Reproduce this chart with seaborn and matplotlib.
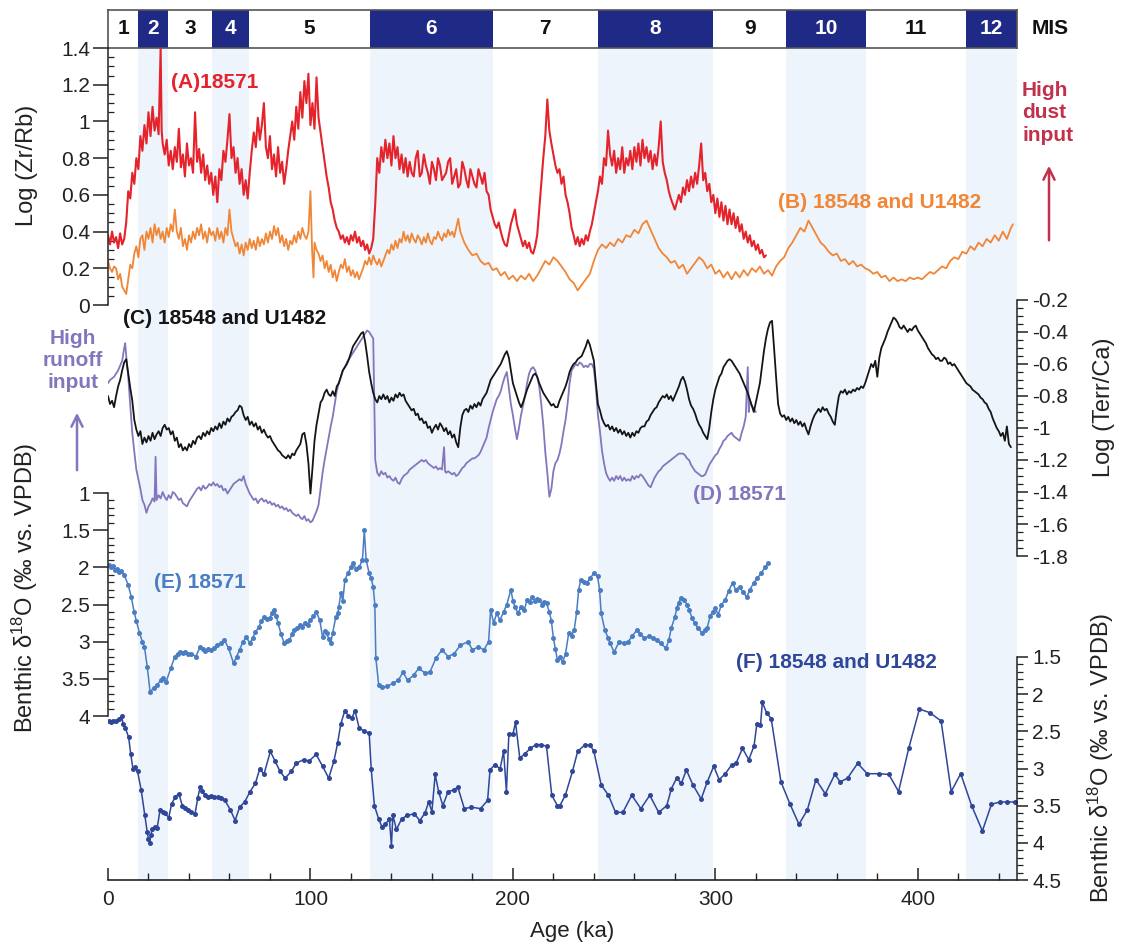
import matplotlib
matplotlib.use("Agg")
import matplotlib.pyplot as plt
from matplotlib.patches import FancyArrowPatch
from matplotlib.ticker import MultipleLocator, FixedLocator, FixedFormatter
import seaborn as sns

# ---------------- data ----------------
MIS_LABELS = ['1', '2', '3', '4', '5', '6', '7', '8', '9', '10', '11', '12']
MIS_BOUNDS = [0, 15, 29.5, 51.5, 69.5, 129.5, 190, 242, 299, 335, 374.5, 424, 449]

AGE_TICKS = [0, 100, 200, 300, 400]
ZR_TICKS = [0, 0.2, 0.4, 0.6, 0.8, 1.0, 1.2, 1.4]
ZR_LABELS = ['0', '0.2', '0.4', '0.6', '0.8', '1', '1.2', '1.4']
TC_TICKS = [-0.2, -0.4, -0.6, -0.8, -1.0, -1.2, -1.4, -1.6, -1.8]
TC_LABELS = ['-0.2', '-0.4', '-0.6', '-0.8', '-1', '-1.2', '-1.4', '-1.6', '-1.8']
E_TICKS = [1, 1.5, 2, 2.5, 3, 3.5, 4]
E_LABELS = ['1', '1.5', '2', '2.5', '3', '3.5', '4']
F_TICKS = [1.5, 2, 2.5, 3, 3.5, 4, 4.5]
F_LABELS = ['1.5', '2', '2.5', '3', '3.5', '4', '4.5']

# (A) Log(Zr/Rb) 18571
A_PTS = [(0,0.38),(1,0.33),(2,0.40),(3,0.34),(4,0.37),(5,0.31),(6,0.39),(7,0.33),(8,0.36),(9,0.45),
 (10,0.62),(11,0.58),(12,0.72),(13,0.66),(14,0.80),(15,0.74),(16,0.92),(17,0.84),(18,0.98),(19,0.88),
 (20,1.05),(21,0.92),(22,1.08),(23,0.95),(24,1.02),(25,0.93),(26,1.40),(26.5,0.95),(27,0.88),(28,0.82),
 (29,0.90),(30,0.76),(31,0.84),(32,0.74),(33,0.86),(34,0.78),(35,0.96),(36,0.75),(37,0.82),(38,0.70),
 (39,0.88),(40,0.76),(41,0.80),(42,0.72),(43,1.05),(44,0.78),(45,0.85),(46,0.72),(47,0.82),(48,0.68),
 (49,0.76),(50,0.66),(51,0.72),(52,0.60),(53,0.70),(54,0.56),(55,0.74),(56,0.68),(57,0.84),(58,0.78),
 (59,0.90),(60,1.04),(61,0.80),(62,0.86),(63,0.72),(64,0.80),(65,0.66),(66,0.74),(67,0.60),(68,0.68),
 (69,0.58),(70,0.72),(71,0.84),(72,0.94),(73,0.86),(74,1.02),(75,0.90),(76,0.98),(77,1.10),(78,0.86),
 (79,0.80),(80,0.92),(81,0.74),(82,0.82),(83,0.70),(84,0.86),(85,0.72),(86,0.78),(87,0.66),(88,0.74),
 (89,0.84),(90,0.92),(91,1.00),(92,0.90),(93,1.08),(94,0.96),(95,1.16),(96,1.02),(97,1.22),(98,1.10),
 (99,1.26),(100,0.98),(101,1.10),(102,0.96),(103,1.24),(104,1.02),(105,0.94),(106,0.86),(107,0.78),(108,0.70),
 (109,0.64),(110,0.56),(111,0.52),(112,0.46),(113,0.42),(114,0.40),(115,0.36),(116,0.38),(117,0.34),(118,0.37),
 (119,0.33),(120,0.38),(121,0.35),(122,0.40),(123,0.34),(124,0.37),(125,0.32),(126,0.35),(127,0.30),(128,0.33),
 (129,0.28),(130,0.31),(131,0.36),(132,0.55),(133,0.80),(134,0.72),(135,0.86),(136,0.78),(137,0.90),(138,0.80),
 (139,0.88),(140,0.76),(141,0.92),(142,0.80),(143,0.86),(144,0.74),(145,0.82),(146,0.72),(147,0.80),(148,0.70),
 (149,0.78),(150,0.72),(151,0.70),(152,0.80),(153,0.84),(154,0.70),(155,0.72),(156,0.82),(157,0.76),(158,0.72),
 (159,0.66),(160,0.78),(161,0.74),(162,0.68),(163,0.80),(164,0.76),(165,0.68),(166,0.70),(167,0.72),(168,0.78),
 (169,0.80),(170,0.66),(171,0.70),(172,0.74),(173,0.64),(174,0.66),(175,0.78),(176,0.74),(177,0.68),(178,0.64),
 (179,0.74),(180,0.70),(181,0.66),(182,0.64),(183,0.74),(184,0.70),(185,0.66),(186,0.72),(187,0.62),(188,0.60),
 (189,0.52),(190,0.48),(191,0.44),(192,0.42),(193,0.45),(194,0.40),(195,0.36),(196,0.33),(197,0.32),(198,0.38),
 (199,0.44),(200,0.48),(201,0.52),(202,0.44),(203,0.40),(204,0.36),(205,0.32),(206,0.35),(207,0.31),(208,0.34),
 (209,0.29),(210,0.28),(211,0.32),(212,0.38),(213,0.52),(214,0.66),(215,0.80),(216,0.92),(217,1.12),(218,0.95),
 (219,0.88),(220,0.82),(221,0.76),(222,0.72),(223,0.74),(224,0.66),(225,0.70),(226,0.60),(227,0.56),(228,0.50),
 (229,0.42),(230,0.38),(231,0.33),(232,0.37),(233,0.32),(234,0.36),(235,0.33),(236,0.38),(237,0.35),
 (238,0.40),(239,0.44),(240,0.50),(241,0.56),(242,0.62),(243,0.70),(244,0.66),(245,0.80),(246,0.76),(247,0.95),
 (248,0.82),(249,0.76),(250,0.84),(251,0.72),(252,0.80),(253,0.74),(254,0.86),(255,0.72),(256,0.80),(257,0.76),
 (258,0.84),(259,0.74),(260,0.86),(261,0.78),(262,0.88),(263,0.76),(264,0.90),(265,0.80),(266,0.86),(267,0.78),
 (268,0.84),(269,0.74),(270,0.82),(271,0.76),(272,0.86),(273,1.00),(274,0.78),(275,0.72),(276,0.68),(277,0.62),
 (278,0.58),(279,0.55),(280,0.52),(281,0.56),(282,0.60),(283,0.56),(284,0.64),(285,0.60),(286,0.68),(287,0.62),
 (288,0.70),(289,0.64),(290,0.72),(291,0.66),(292,0.76),(293,0.88),(294,0.68),(295,0.72),(296,0.62),(297,0.66),
 (298,0.56),(299,0.60),(300,0.50),(301,0.58),(302,0.48),(303,0.56),(304,0.46),(305,0.54),(306,0.44),(307,0.52),
 (308,0.44),(309,0.50),(310,0.42),(311,0.48),(312,0.40),(313,0.44),(314,0.36),(315,0.40),(316,0.34),(317,0.38),
 (318,0.32),(319,0.35),(320,0.30),(321,0.33),(322,0.28),(323,0.30),(324,0.26),(325,0.27)]

# (B) Log(Zr/Rb) 18548 and U1482
B_PTS = [(0,0.24),(1,0.20),(2,0.18),(3,0.21),(4,0.20),(5,0.14),(6,0.17),(7,0.10),(8,0.08),(9,0.06),
 (10,0.14),(11,0.22),(12,0.20),(13,0.28),(14,0.32),(15,0.26),(16,0.36),(17,0.38),(18,0.30),(19,0.40),
 (20,0.36),(21,0.42),(22,0.34),(23,0.44),(24,0.38),(25,0.42),(26,0.36),(27,0.40),(28,0.34),(29,0.42),
 (30,0.37),(31,0.44),(32,0.40),(33,0.52),(34,0.40),(35,0.36),(36,0.42),(37,0.32),(38,0.36),(39,0.30),
 (40,0.38),(41,0.34),(42,0.40),(43,0.36),(44,0.42),(45,0.38),(46,0.44),(47,0.36),(48,0.40),(49,0.34),
 (50,0.42),(51,0.38),(52,0.40),(53,0.35),(54,0.42),(55,0.36),(56,0.40),(57,0.34),(58,0.42),(59,0.38),
 (60,0.52),(61,0.40),(62,0.36),(63,0.32),(64,0.34),(65,0.28),(66,0.33),(67,0.27),(68,0.34),(69,0.30),
 (70,0.36),(71,0.31),(72,0.35),(73,0.30),(74,0.37),(75,0.32),(76,0.36),(77,0.33),(78,0.39),(79,0.34),
 (80,0.40),(81,0.36),(82,0.43),(83,0.38),(84,0.42),(85,0.34),(86,0.38),(87,0.32),(88,0.36),(89,0.30),
 (90,0.35),(91,0.33),(92,0.38),(93,0.34),(94,0.40),(95,0.36),(96,0.42),(97,0.38),(98,0.36),(99,0.40),
 (100,0.62),(100.8,0.30),(101.5,0.15),(102,0.34),(103,0.30),(104,0.28),(105,0.24),(106,0.27),(107,0.20),(108,0.24),
 (109,0.18),(110,0.22),(111,0.15),(112,0.19),(113,0.13),(114,0.18),(115,0.22),(116,0.20),(117,0.25),(118,0.18),
 (119,0.21),(120,0.16),(121,0.19),(122,0.15),(123,0.18),(124,0.14),(125,0.17),(126,0.20),(127,0.24),(128,0.22),
 (129,0.26),(130,0.22),(131,0.27),(132,0.24),(133,0.22),(134,0.25),(135,0.21),(136,0.24),(137,0.27),(138,0.30),
 (139,0.28),(140,0.33),(141,0.30),(142,0.35),(143,0.31),(144,0.36),(145,0.34),(146,0.40),(147,0.35),(148,0.38),
 (149,0.34),(150,0.39),(151,0.36),(152,0.34),(153,0.38),(154,0.36),(155,0.33),(156,0.37),(157,0.34),(158,0.39),
 (159,0.35),(160,0.33),(161,0.37),(162,0.36),(163,0.40),(164,0.37),(165,0.35),(166,0.39),(167,0.37),(168,0.41),
 (169,0.38),(170,0.40),(171,0.37),(172,0.42),(173,0.47),(174,0.40),(176,0.34),(178,0.30),(180,0.27),(182,0.28),
 (184,0.24),(186,0.22),(188,0.23),(190,0.19),(192,0.20),
 (194,0.16),(196,0.18),(198,0.14),(200,0.16),(202,0.13),(204,0.16),(206,0.14),(208,0.17),(210,0.13),(212,0.16),
 (214,0.20),(216,0.24),(218,0.22),(220,0.26),(222,0.24),(224,0.21),(226,0.18),(228,0.14),(230,0.12),(232,0.08),
 (234,0.11),(236,0.14),(238,0.17),(240,0.24),(242,0.30),(244,0.33),(246,0.31),(248,0.34),(250,0.32),(252,0.36),
 (254,0.34),(256,0.38),(258,0.37),(260,0.41),(262,0.39),(264,0.44),(266,0.46),(268,0.41),(270,0.36),(272,0.31),
 (274,0.28),(276,0.26),(278,0.23),(280,0.24),(282,0.20),(284,0.22),(286,0.17),(288,0.20),(290,0.23),(292,0.26),
 (294,0.24),(296,0.20),(298,0.22),(300,0.17),(302,0.19),(304,0.15),(306,0.18),(308,0.14),(310,0.18),(312,0.15),
 (314,0.19),(316,0.16),(318,0.20),(320,0.18),(322,0.21),(324,0.17),(326,0.19),(328,0.16),(330,0.21),(332,0.24),
 (334,0.26),(336,0.31),(338,0.34),(340,0.38),(342,0.42),(344,0.40),(346,0.46),(348,0.42),(350,0.38),(352,0.34),
 (354,0.32),(356,0.29),(358,0.27),(360,0.28),(362,0.24),(364,0.25),(366,0.22),(368,0.24),(370,0.21),(372,0.22),
 (374,0.20),(376,0.19),(378,0.17),(380,0.18),(382,0.15),(384,0.16),(386,0.13),(388,0.15),(390,0.13),(392,0.14),
 (394,0.13),(396,0.15),(398,0.14),(400,0.15),(402,0.14),(404,0.16),(406,0.18),(408,0.17),(410,0.19),(412,0.21),
 (414,0.20),(416,0.24),(418,0.26),(420,0.25),(422,0.29),(424,0.28),(426,0.32),(428,0.30),(430,0.34),(432,0.32),
 (434,0.36),(436,0.34),(438,0.38),(440,0.35),(442,0.40),(444,0.36),(446,0.42),(447,0.44)]

# (C) Log(Terr/Ca) 18548 and U1482
C_PTS = [(0,-0.80),(1,-0.85),(2,-0.83),(3,-0.87),(4,-0.80),(5,-0.74),(6,-0.70),(7,-0.64),(8,-0.59),(9,-0.57),
 (10,-0.66),(11,-0.75),(12,-0.83),(13,-0.95),(14,-1.01),(15,-1.05),(16,-1.02),(17,-1.10),(18,-1.06),(19,-1.09),
 (20,-1.05),(21,-1.08),(22,-1.03),(23,-1.07),(24,-1.04),(25,-1.02),(26,-1.05),(27,-1.00),(28,-0.98),(29,-1.01),
 (30,-1.00),(31,-1.04),(32,-1.02),(33,-1.08),(34,-1.06),(35,-1.12),(36,-1.10),(37,-1.14),(38,-1.12),(39,-1.14),
 (40,-1.10),(41,-1.12),(42,-1.08),(43,-1.10),(44,-1.06),(45,-1.05),(46,-1.07),(47,-1.03),(48,-1.05),(49,-1.02),
 (50,-1.04),(51,-1.00),(52,-1.02),(53,-0.99),(54,-1.01),(55,-0.97),(56,-1.00),(57,-0.96),(58,-0.98),(59,-0.94),
 (60,-0.96),(61,-0.93),(62,-0.92),(63,-0.90),(64,-0.89),(65,-0.86),(66,-0.87),(67,-0.92),(68,-0.95),(69,-0.93),
 (70,-0.98),(71,-0.96),(72,-0.99),(73,-0.97),(74,-1.01),(75,-0.99),(76,-1.03),(77,-1.01),(78,-1.04),(79,-1.06),
 (80,-1.05),(81,-1.08),(82,-1.10),(83,-1.12),(84,-1.14),(85,-1.15),(86,-1.17),(87,-1.18),(88,-1.19),(89,-1.17),
 (90,-1.19),(91,-1.16),(92,-1.17),(93,-1.14),(94,-1.12),(95,-1.10),(96,-1.04),(97,-1.03),(98,-1.10),(99,-1.22),
 (100,-1.41),(101,-1.25),(102,-1.08),(103,-0.98),(104,-0.91),(105,-0.84),(106,-0.82),(107,-0.78),(108,-0.76),(109,-0.79),
 (110,-0.80),(111,-0.77),(112,-0.80),(113,-0.74),(114,-0.72),(115,-0.68),(116,-0.64),(117,-0.62),(118,-0.60),(119,-0.57),
 (120,-0.53),(121,-0.49),(122,-0.47),(123,-0.45),(124,-0.43),(125,-0.41),(126,-0.40),(127,-0.46),(128,-0.55),(129,-0.65),
 (130,-0.72),(131,-0.78),(132,-0.82),(133,-0.84),(134,-0.80),(135,-0.82),(136,-0.79),(137,-0.82),(138,-0.80),(139,-0.84),
 (140,-0.81),(141,-0.83),(142,-0.79),(143,-0.81),(144,-0.78),(145,-0.80),(146,-0.79),(147,-0.83),(148,-0.85),(149,-0.87),
 (150,-0.89),(151,-0.88),(152,-0.92),(153,-0.91),(154,-0.95),(155,-0.94),(156,-0.97),(157,-0.96),(158,-1.00),(159,-0.99),
 (160,-1.03),(161,-1.00),(162,-0.98),(163,-1.01),(164,-0.97),(165,-0.99),(166,-1.02),(167,-1.00),(168,-1.04),(169,-1.02),
 (170,-1.06),(171,-1.04),(172,-1.09),(173,-1.12),(174,-1.00),(175,-0.92),(176,-0.89),(177,-0.88),(178,-0.90),(179,-0.86),
 (180,-0.88),(181,-0.85),(182,-0.87),(183,-0.84),(184,-0.86),(185,-0.82),(186,-0.80),(187,-0.78),(188,-0.74),(189,-0.70),
 (190,-0.68),(191,-0.66),(192,-0.64),(193,-0.62),(194,-0.60),(195,-0.57),(196,-0.54),(197,-0.52),(198,-0.56),(199,-0.64),
 (200,-0.72),(201,-0.76),(202,-0.80),(203,-0.84),(204,-0.87),(205,-0.84),(206,-0.80),(207,-0.76),(208,-0.73),(209,-0.70),
 (210,-0.67),(211,-0.66),(212,-0.68),(213,-0.72),(214,-0.75),(215,-0.78),(216,-0.80),(217,-0.82),(218,-0.84),(219,-0.86),
 (220,-0.85),(221,-0.87),(222,-0.87),(223,-0.83),(224,-0.80),(225,-0.77),(226,-0.74),(227,-0.70),(228,-0.65),(229,-0.62),
 (230,-0.60),(231,-0.59),(232,-0.57),(233,-0.56),(234,-0.55),(235,-0.52),(236,-0.49),(237,-0.45),(238,-0.48),(239,-0.53),
 (240,-0.58),(241,-0.72),(242,-0.85),(243,-0.89),(244,-0.94),(245,-0.97),(246,-0.99),(247,-0.98),(248,-1.01),(249,-0.99),
 (250,-1.02),(251,-1.00),(252,-1.03),(253,-1.01),(254,-1.04),(255,-1.02),(256,-1.05),(257,-1.03),(258,-1.06),(259,-1.03),
 (260,-1.05),(261,-1.02),(262,-1.03),(263,-1.00),(264,-0.99),(265,-0.99),(266,-0.96),(267,-0.95),(268,-0.92),(269,-0.90),
 (270,-0.88),(271,-0.87),(272,-0.84),(273,-0.82),(274,-0.80),(275,-0.81),(276,-0.79),(277,-0.82),(278,-0.80),(279,-0.83),
 (280,-0.80),(281,-0.77),(282,-0.74),(283,-0.70),(284,-0.68),(285,-0.71),(286,-0.76),(287,-0.82),(288,-0.86),(289,-0.88),
 (290,-0.91),(291,-0.95),(292,-0.98),(293,-1.00),(294,-1.03),(295,-1.05),(296,-1.07),(297,-1.00),(298,-0.90),(299,-0.82),
 (300,-0.76),(301,-0.72),(302,-0.68),(303,-0.66),(304,-0.62),(305,-0.60),(306,-0.58),(307,-0.57),(308,-0.58),(309,-0.60),
 (310,-0.62),(311,-0.64),(312,-0.66),(313,-0.69),(314,-0.72),(315,-0.75),(316,-0.78),(317,-0.82),(318,-0.86),(319,-0.90),
 (320,-0.84),(321,-0.78),(322,-0.72),(323,-0.62),(324,-0.52),(325,-0.44),(326,-0.38),(327,-0.34),(328,-0.33),(329,-0.50),
 (330,-0.68),(331,-0.85),(332,-0.91),(333,-0.93),(334,-0.92),(335,-0.95),(336,-0.93),(337,-0.96),(338,-0.94),(339,-0.97),
 (340,-0.95),(341,-0.98),(342,-0.96),(343,-0.99),(344,-0.97),(345,-1.01),(346,-1.04),(347,-0.99),(348,-0.95),(349,-0.92),
 (350,-0.90),(351,-0.88),(352,-0.90),(353,-0.87),(354,-0.89),(355,-0.88),(356,-0.91),(357,-0.93),(358,-0.96),(359,-0.98),
 (360,-0.88),(361,-0.80),(362,-0.77),(363,-0.78),(364,-0.76),(365,-0.79),(366,-0.77),(367,-0.78),(368,-0.76),(369,-0.77),
 (370,-0.75),(371,-0.76),(372,-0.74),(373,-0.75),(374,-0.72),(375,-0.68),(376,-0.64),(377,-0.60),(378,-0.62),(379,-0.58),
 (380,-0.68),(381,-0.56),(382,-0.50),(383,-0.47),(384,-0.44),(385,-0.40),(386,-0.37),(387,-0.34),(388,-0.31),(389,-0.32),
 (390,-0.34),(391,-0.37),(392,-0.38),(393,-0.36),(394,-0.38),(395,-0.40),(396,-0.38),(397,-0.39),(398,-0.37),(399,-0.36),
 (400,-0.39),(401,-0.41),(402,-0.43),(403,-0.45),(404,-0.47),(405,-0.50),(406,-0.52),(407,-0.54),(408,-0.55),(409,-0.57),
 (410,-0.56),(411,-0.58),(412,-0.58),(413,-0.56),(414,-0.57),(415,-0.60),(416,-0.59),(417,-0.61),(418,-0.60),(419,-0.62),
 (420,-0.64),(421,-0.66),(422,-0.68),(423,-0.70),(424,-0.72),(425,-0.73),(426,-0.74),(427,-0.76),(428,-0.77),(429,-0.78),
 (430,-0.79),(431,-0.81),(432,-0.82),(433,-0.84),(434,-0.85),(435,-0.88),(436,-0.90),(437,-0.94),(438,-0.97),(439,-1.00),
 (440,-1.02),(441,-1.05),(442,-1.03),(443,-1.08),(444,-0.99),(445,-1.10),(446,-1.12)]

# (D) Log(Terr/Ca) 18571
D_PTS = [(0,-0.72),(1,-0.70),(2,-0.69),(3,-0.68),(4,-0.66),(5,-0.64),(6,-0.61),(7,-0.58),(8,-0.50),(8.5,-0.47),
 (9,-0.55),(10,-0.68),(11,-0.86),(12,-1.03),(13,-1.15),(14,-1.26),(15,-1.32),(16,-1.38),(17,-1.45),(18,-1.48),
 (19,-1.53),(20,-1.49),(21,-1.47),(22,-1.44),(23,-1.46),(23.5,-1.18),(24,-1.45),(25,-1.42),(26,-1.44),(27,-1.40),
 (28,-1.43),(29,-1.45),(30,-1.42),(31,-1.44),(32,-1.40),(33,-1.41),(34,-1.43),(35,-1.45),(36,-1.44),(37,-1.47),
 (38,-1.48),(39,-1.49),(40,-1.46),(41,-1.44),(42,-1.42),(43,-1.40),(44,-1.38),(45,-1.37),(46,-1.39),(47,-1.36),
 (48,-1.38),(49,-1.37),(50,-1.35),(51,-1.36),(52,-1.34),(53,-1.36),(54,-1.35),(55,-1.37),(56,-1.36),(57,-1.39),
 (58,-1.38),(59,-1.41),(60,-1.39),(61,-1.37),(62,-1.35),(63,-1.34),(64,-1.33),(65,-1.32),(66,-1.33),(67,-1.30),
 (68,-1.35),(69,-1.38),(70,-1.41),(71,-1.43),(72,-1.45),(73,-1.44),(74,-1.47),(75,-1.45),(76,-1.44),(77,-1.46),
 (78,-1.45),(79,-1.47),(80,-1.46),(81,-1.48),(82,-1.47),(83,-1.49),(84,-1.48),(85,-1.50),(86,-1.49),(87,-1.51),
 (88,-1.50),(89,-1.52),(90,-1.51),(91,-1.53),(92,-1.54),(93,-1.55),(94,-1.54),(95,-1.56),(96,-1.57),(97,-1.55),
 (98,-1.58),(99,-1.57),(100,-1.59),(101,-1.58),(102,-1.55),(103,-1.52),(104,-1.48),(105,-1.38),(106,-1.28),(107,-1.20),
 (108,-1.13),(109,-1.06),(110,-0.99),(111,-0.93),(112,-0.85),(113,-0.77),(114,-0.72),(115,-0.68),(116,-0.64),(117,-0.62),
 (118,-0.59),(119,-0.57),(120,-0.55),(121,-0.53),(122,-0.51),(123,-0.49),(124,-0.47),(125,-0.45),(126,-0.43),(127,-0.41),
 (128,-0.39),(129,-0.40),(130,-0.42),(131,-0.44),(131.5,-0.80),(132,-1.20),(133,-1.28),(134,-1.30),(135,-1.27),(136,-1.29),
 (137,-1.28),(138,-1.31),(139,-1.30),(140,-1.32),(141,-1.33),(142,-1.31),(143,-1.34),(144,-1.35),(145,-1.32),(146,-1.30),
 (147,-1.29),(148,-1.28),(149,-1.26),(150,-1.25),(151,-1.24),(152,-1.23),(153,-1.22),(154,-1.21),(155,-1.20),(156,-1.21),
 (157,-1.20),(158,-1.22),(159,-1.23),(160,-1.24),(161,-1.25),(162,-1.24),(163,-1.26),(164,-1.25),(165,-1.26),(166,-1.12),
 (166.5,-1.27),(167,-1.28),(168,-1.27),(169,-1.28),(170,-1.29),(171,-1.28),(172,-1.30),(173,-1.29),(174,-1.27),(175,-1.25),
 (176,-1.24),(177,-1.22),(178,-1.21),(179,-1.20),(180,-1.19),(181,-1.19),(182,-1.18),(183,-1.17),(184,-1.15),(185,-1.12),
 (186,-1.09),(187,-1.06),(188,-1.00),(189,-0.95),(190,-0.90),(191,-0.86),(192,-0.82),(193,-0.80),(194,-0.77),(195,-0.72),
 (196,-0.68),(197,-0.65),(198,-0.75),(199,-0.85),(200,-0.92),(201,-1.00),(202,-1.07),(203,-1.00),(204,-0.92),(205,-0.86),
 (206,-0.80),(207,-0.72),(208,-0.66),(209,-0.63),(210,-0.62),(211,-0.64),(212,-0.68),(213,-0.74),(214,-0.85),(215,-0.98),
 (216,-1.15),(217,-1.28),(218,-1.43),(219,-1.38),(220,-1.27),(221,-1.22),(222,-1.20),(223,-1.16),(224,-1.10),(225,-1.02),
 (226,-0.95),(227,-0.85),(228,-0.72),(229,-0.64),(230,-0.62),(231,-0.60),(232,-0.61),(233,-0.59),(234,-0.60),(235,-0.62),
 (236,-0.61),(237,-0.62),(238,-0.60),(239,-0.60),(240,-0.63),(241,-0.75),(242,-0.92),(243,-1.02),(244,-1.14),(245,-1.22),
 (246,-1.28),(247,-1.31),(248,-1.33),(249,-1.31),(250,-1.33),(251,-1.30),(252,-1.32),(253,-1.30),(254,-1.33),(255,-1.31),
 (256,-1.33),(257,-1.32),(258,-1.33),(259,-1.30),(260,-1.32),(261,-1.30),(262,-1.31),(263,-1.29),(264,-1.30),(265,-1.32),
 (266,-1.34),(267,-1.36),(268,-1.37),(269,-1.34),(270,-1.31),(271,-1.29),(272,-1.27),(273,-1.26),(274,-1.24),(275,-1.23),
 (276,-1.22),(277,-1.21),(278,-1.20),(279,-1.19),(280,-1.18),(281,-1.17),(282,-1.16),(283,-1.16),(284,-1.16),(285,-1.17),
 (286,-1.19),(287,-1.20),(288,-1.23),(289,-1.25),(290,-1.27),(291,-1.28),(292,-1.29),(293,-1.30),(294,-1.30),(295,-1.29),
 (296,-1.26),(297,-1.23),(298,-1.21),(299,-1.19),(300,-1.17),(301,-1.16),(302,-1.13),(303,-1.11),(304,-1.08),(305,-1.07),
 (306,-1.05),(307,-1.04),(308,-1.03),(309,-1.05),(310,-1.06),(311,-1.07),(312,-1.08),(313,-1.03),(314,-0.99),(315,-0.93),
 (316,-0.62),(316.5,-0.90),(317,-0.83),(318,-0.86),(319,-0.88),(320,-0.90)]

# (E) benthic d18O 18571
E_PTS = [(0.5,1.97),(1.5,2.0),(2.5,1.98),(3.5,2.04),(4.5,2.02),(5.5,2.06),(6.5,2.05),(8,2.1),(10,2.24),(11.5,2.4),
 (12.9,2.6),(14,2.72),(15.5,2.88),(17,3.0),(18,3.07),(19.4,3.34),(20.8,3.68),(22.5,3.62),(24.3,3.58),(26,3.52),
 (27,3.49),(28.7,3.54),(31,3.36),(33,3.2),(34.5,3.16),(35.8,3.14),(37,3.15),(38,3.14),(39.5,3.17),(41,3.16),
 (43.4,3.2),(45.5,3.07),(47,3.1),(48,3.12),(49.5,3.1),(50.8,3.11),(52.5,3.08),(54,3.05),(56,3.02),(57.5,2.98),
 (59.6,3.09),(62,3.29),(63.5,3.2),(65,3.11),(66.7,3.0),(68.4,2.94),(70,3.02),(71.5,2.95),(72.8,2.87),(74.6,2.8),
 (75.8,2.72),(77,2.67),(78.5,2.7),(80,2.68),(81,2.62),(82,2.57),(83,2.65),(84,2.75),(85.5,2.9),(87,3.02),
 (88.3,2.99),(89.6,2.98),(91,2.9),(92,2.84),(93.5,2.82),(95,2.78),(96,2.8),(97.5,2.75),(98.7,2.77),(100,2.71),
 (101.5,2.66),(102.8,2.6),(104.6,2.71),(106,2.94),(107,2.85),(108,2.88),(109,2.96),(110,3.02),(111,2.88),(112.5,2.67),
 (113.5,2.62),(114,2.53),(115,2.35),(116,2.45),(117,2.17),(118.5,2.08),(120,2.0),(121,1.94),(122.5,2.02),(124,2.0),
 (125.7,1.9),(126.6,1.5),(127.5,1.9),(129,2.08),(130,2.15),(131,2.26),(131.8,2.5),(132.3,3.22),(133.7,3.58),(135.4,3.61),
 (138,3.6),(140.7,3.56),(143.4,3.52),(145.7,3.41),(148,3.52),(151,3.45),(153.4,3.36),(156.6,3.42),(159,3.41),(162,3.22),
 (165,3.11),(168,3.2),(171,3.16),(174,3.05),(177.8,3.0),(180,3.11),(183,3.07),(185.7,3.11),(188,3.0),(189,2.57),
 (190.5,2.75),(192,2.62),(193.6,2.71),(195.4,2.6),(197,2.5),(199,2.3),(200,2.45),(201,2.53),(202.5,2.62),(204,2.53),
 (205.5,2.58),(207,2.44),(208.3,2.46),(209.5,2.4),(211,2.45),(212,2.42),(213,2.44),(214.5,2.5),(215.5,2.46),(216.6,2.48),
 (218,2.6),(219,2.72),(220,2.95),(221,3.1),(222,3.25),(223.2,3.2),(224.5,3.28),(226,3.16),(227.6,2.88),(229,2.92),
 (230.3,2.84),(231.5,2.6),(232.5,2.3),(233.5,2.17),(235,2.2),(236.5,2.21),(238,2.15),(240,2.08),(241.8,2.12),(242.8,2.3),
 (243.6,2.62),(245.4,2.84),(247,2.95),(248,3.02),(250,3.14),(252.5,3.0),(255,3.02),(257,3.0),(259,2.92),(261.4,2.84),
 (263,2.9),(265,2.95),(267,2.93),(269.4,2.95),(271,2.98),(273,3.02),(275.6,3.09),(277,2.98),(278.3,2.81),(280,2.67),
 (281,2.55),(281.8,2.48),(283,2.41),(284.5,2.44),(286,2.5),(287,2.57),(288.5,2.68),(289.8,2.75),(291.5,2.82),(293.4,2.88),
 (295,2.84),(296,2.81),(297.5,2.65),(298.7,2.6),(300,2.55),(301.4,2.64),(303,2.5),(304.9,2.44),(306.5,2.32),(308.5,2.21),
 (310,2.3),(312,2.26),(313.5,2.33),(315.6,2.4),(317,2.3),(319,2.21),(320.5,2.15),(322.7,2.08),(324.5,2.0),(326.2,1.94)]

# (F) benthic d18O 18548 and U1482
F_PTS = [(0.5,2.36),(1.5,2.38),(2.5,2.36),(4,2.36),(5.5,2.33),(6.7,2.3),(7.5,2.4),(8.5,2.45),(10.2,2.58),(11.2,2.8),
 (12.3,3.0),(13.5,2.98),(14.6,3.04),(16.4,3.29),(18.2,3.63),(19.4,3.86),(20,3.95),(20.5,4.0),(21.2,3.9),(21.7,3.82),
 (23,3.79),(24.3,3.8),(25.7,3.56),(27,3.58),(28,3.6),(30,3.66),(31.4,3.48),(33.2,3.38),(35,3.34),(36.7,3.5),
 (38,3.53),(39.3,3.56),(41,3.58),(43,3.61),(44.3,3.4),(45.5,3.25),(46.5,3.3),(48,3.36),(49.5,3.38),(50.8,3.37),
 (52.5,3.38),(54.3,3.38),(56,3.4),(57.8,3.43),(60.5,3.56),(62.8,3.7),(65,3.52),(67.5,3.45),(70.2,3.31),(72.8,3.2),
 (75,3.0),(77,3.08),(80.2,2.77),(82.5,2.9),(85,3.04),(87.5,3.13),(90.5,3.04),(93,2.93),(96.6,2.88),(99.3,2.9),
 (102.8,2.81),(106,2.97),(109,3.13),(111.6,2.9),(113.4,2.66),(115,2.4),(117,2.22),(118.7,2.29),(120.5,2.32),(122,2.22),
 (124,2.45),(126.6,2.5),(129,2.52),(130,3.0),(131.6,3.5),(133.7,3.68),(135.4,3.79),(137,3.75),(139,3.68),(140,4.04),
 (140.7,3.63),(142.5,3.82),(145,3.68),(147.8,3.63),(151.3,3.61),(154,3.7),(156.6,3.6),(158.4,3.45),(160,3.58),(161.6,3.08),
 (163.3,3.31),(165.4,3.5),(168,3.31),(170.7,3.29),(172.8,3.25),(176,3.54),(179.5,3.52),(184,3.54),(187.5,3.43),(188.7,3.02),
 (191,2.95),(193.7,3.0),(195.4,2.77),(196.8,3.31),(198,2.54),(200,2.54),(201.3,2.38),(203.4,2.86),(206,2.8),(208.6,2.73),
 (211.3,2.68),(214,2.68),(216.6,2.7),(219.2,3.36),(222,3.5),(223.2,3.5),(225.9,3.36),(229.4,3.04),(232,2.77),(235.6,2.68),
 (238.3,2.69),(240,2.77),(243.6,3.22),(247.2,3.36),(250.7,3.59),(254.3,3.59),(258.7,3.36),(263.2,3.54),(267.6,3.36),(272,3.59),
 (276,3.5),(278.3,3.27),(280.9,3.13),(283.2,3.2),(285.7,3.02),(288.9,3.22),(293,3.41),(296,3.18),(299.2,2.97),(301.9,3.15),
 (304.9,3.07),(308.1,2.95),(310.2,2.93),(313.4,2.73),(316.5,2.88),(319.1,2.7),(320.5,2.4),(322.3,2.42),(323.2,2.11),(325.3,2.25),
 (327.6,2.33),(332.4,3.18),(336.9,3.48),(341.3,3.75),(345.4,3.56),(349.7,3.15),(354.3,3.34),(359,3.08),(361.7,3.18),(365.3,3.13),
 (370.3,2.93),(375,3.07),(381,3.07),(385.7,3.08),(390.5,3.31),(395.5,2.73),(400.8,2.2),(406,2.25),(411.5,2.36),(416.5,3.31),
 (421.2,3.07),(426.6,3.5),(431.9,3.84),(436.4,3.48),(440.8,3.45),(444.3,3.45),(448,3.45)]

# ---------------- style ----------------
RED = '#E4232B'
ORANGE = '#F08636'
BLACK = '#151515'
PURPLE = '#8476BD'
EBLUE = '#4A7DC2'
FBLUE = '#2F4699'
NAVY = '#1E2A86'
SHADE = '#EDF4FC'
DUST = '#C2314B'

sns.set_theme(style="white")
plt.rcParams["font.family"] = ["Liberation Sans", "DejaVu Sans"]
plt.rcParams["mathtext.fontset"] = "custom"
plt.rcParams["mathtext.rm"] = "Liberation Sans"
plt.rcParams["mathtext.it"] = "Liberation Sans:italic"
plt.rcParams["mathtext.bf"] = "Liberation Sans:bold"
plt.rcParams["axes.unicode_minus"] = False

W, H = 1121, 949
fig = plt.figure(figsize=(W / 100, H / 100), dpi=100)
fig.patch.set_facecolor('white')


def box(x0, y0, x1, y1):
    return [x0 / W, 1 - y1 / H, (x1 - x0) / W, (y1 - y0) / H]


def T(x, y, s, **kw):
    return fig.text(x / W, 1 - y / H, s, **kw)


XL, XR = 108, 1017
XMAX = MIS_BOUNDS[-1]
TICKC = '#222222'

# ---- main axis (age axis + glacial shading) ----
ax0 = fig.add_axes(box(XL, 48, XR, 880))
ax0.set_xlim(0, XMAX)
ax0.set_ylim(0, 1)
for s in ['left', 'right', 'top']:
    ax0.spines[s].set_visible(False)
ax0.spines['bottom'].set_color(TICKC)
ax0.spines['bottom'].set_linewidth(1.2)
ax0.set_yticks([])
ax0.xaxis.set_major_locator(FixedLocator(AGE_TICKS))
ax0.xaxis.set_major_formatter(FixedFormatter([str(t) for t in AGE_TICKS]))
ax0.xaxis.set_minor_locator(MultipleLocator(20))
ax0.tick_params(axis='x', which='major', direction='in', length=9, width=1.1,
                labelsize=15, pad=7, colors=TICKC, bottom=True)
ax0.tick_params(axis='x', which='minor', direction='in', length=5, width=1.0,
                colors=TICKC, bottom=True)
for i, lab in enumerate(MIS_LABELS):
    if int(lab) % 2 == 0:
        ax0.axvspan(MIS_BOUNDS[i], MIS_BOUNDS[i + 1], color=SHADE, lw=0, zorder=0)

# ---- MIS bar ----
axm = fig.add_axes(box(XL, 10, XR, 48))
axm.set_xlim(0, XMAX)
axm.set_ylim(0, 1)
axm.set_xticks([])
axm.set_yticks([])
for s in axm.spines.values():
    s.set_color('#555555')
    s.set_linewidth(1.2)
for i, lab in enumerate(MIS_LABELS):
    s0, s1 = MIS_BOUNDS[i], MIS_BOUNDS[i + 1]
    even = int(lab) % 2 == 0
    if even:
        axm.bar(s0, 1, width=s1 - s0, align='edge', color=NAVY, lw=0)
    axm.text((s0 + s1) / 2, 0.5, lab, ha='center', va='center',
             color='white' if even else '#111111', fontsize=15, fontweight='bold')
T(1032, 29, 'MIS', fontsize=15, fontweight='bold', color='#111111', ha='left', va='center')


def overlay(y0, y1):
    ax = fig.add_axes(box(XL, y0, XR, y1))
    ax.patch.set_alpha(0)
    for s in ax.spines.values():
        s.set_visible(False)
    return ax


def finish(ax, ylim, ticks, labels, minor, side):
    ax.set_xlim(0, XMAX)
    ax.set_ylim(*ylim)
    ax.set_xticks([])
    ax.set_xlabel('')
    ax.set_ylabel('')
    ax.yaxis.set_major_locator(FixedLocator(ticks))
    ax.yaxis.set_major_formatter(FixedFormatter(labels))
    ax.yaxis.set_minor_locator(MultipleLocator(minor))
    ax.spines[side].set_visible(True)
    ax.spines[side].set_color(TICKC)
    ax.spines[side].set_linewidth(1.1)
    if side == 'left':
        ax.tick_params(axis='y', which='major', direction='out', length=11, width=1.1,
                       pad=2, labelsize=15, colors=TICKC, left=True, right=False)
        ax.tick_params(axis='y', which='minor', direction='in', length=4, width=0.9,
                       colors=TICKC, left=True, right=False)
    else:
        ax.yaxis.tick_right()
        ax.tick_params(axis='y', which='major', direction='out', length=8, width=1.1,
                       pad=3, labelsize=15, colors=TICKC, right=True, left=False,
                       labelright=True, labelleft=False)
        ax.tick_params(axis='y', which='minor', direction='out', length=4.5, width=0.9,
                       colors=TICKC, right=True, left=False)


def xy(pts):
    return [p[0] for p in pts], [p[1] for p in pts]


# ---- (A)/(B) Zr/Rb ----
ax_a = overlay(48, 305)
x, y = xy(B_PTS)
sns.lineplot(x=x, y=y, ax=ax_a, color=ORANGE, lw=1.3, sort=False, estimator=None, errorbar=None)
x, y = xy(A_PTS)
sns.lineplot(x=x, y=y, ax=ax_a, color=RED, lw=1.5, sort=False, estimator=None, errorbar=None)
finish(ax_a, (0, 1.4), ZR_TICKS, ZR_LABELS, 0.05, 'left')

# ---- (C)/(D) Terr/Ca ----
ax_c = overlay(300, 556)
x, y = xy(D_PTS)
sns.lineplot(x=x, y=y, ax=ax_c, color=PURPLE, lw=1.3, sort=False, estimator=None, errorbar=None)
x, y = xy(C_PTS)
sns.lineplot(x=x, y=y, ax=ax_c, color=BLACK, lw=1.3, sort=False, estimator=None, errorbar=None)
finish(ax_c, (-1.8, -0.2), TC_TICKS, TC_LABELS, 0.05, 'right')

# ---- (E) d18O 18571 ----
ax_e = overlay(493, 716)
x, y = xy(E_PTS)
sns.lineplot(x=x, y=y, ax=ax_e, color=EBLUE, lw=1.1, marker='o', markersize=3.6,
             markeredgewidth=0, sort=False, estimator=None, errorbar=None)
finish(ax_e, (4, 1), E_TICKS, E_LABELS, 0.1, 'left')

# ---- (F) d18O 18548 and U1482 ----
ax_f = overlay(657, 880)
x, y = xy(F_PTS)
sns.lineplot(x=x, y=y, ax=ax_f, color=FBLUE, lw=1.1, marker='o', markersize=3.6,
             markeredgewidth=0, sort=False, estimator=None, errorbar=None)
finish(ax_f, (4.5, 1.5), F_TICKS, F_LABELS, 0.1, 'right')

# ---- annotations ----
BOLD = dict(fontsize=15, fontweight='bold', va='center')
T(171, 83, '(A)18571', color=RED, ha='left', **BOLD)
T(778, 203, '(B) 18548 and U1482', color=ORANGE, ha='left', **BOLD)
T(1022, 113, 'High\ndust\ninput', color=DUST, ha='left', linespacing=1.22, **BOLD)
T(123, 318, '(C) 18548 and U1482', color=BLACK, ha='left', **BOLD)
T(73, 361, 'High\nrunoff\ninput', color=PURPLE, ha='center', multialignment='center',
  linespacing=1.2, **BOLD)
T(693, 495, '(D) 18571', color=PURPLE, ha='left', **BOLD)
T(154, 582, '(E) 18571', color=EBLUE, ha='left', **BOLD)
T(736, 663, '(F) 18548 and U1482', color=FBLUE, ha='left', **BOLD)

fig.add_artist(FancyArrowPatch((1049 / W, 1 - 243 / H), (1049 / W, 1 - 163 / H),
                               transform=fig.transFigure, arrowstyle='->',
                               mutation_scale=20, lw=1.8, color=DUST))
fig.add_artist(FancyArrowPatch((77 / W, 1 - 473 / H), (77 / W, 1 - 410 / H),
                               transform=fig.transFigure, arrowstyle='->',
                               mutation_scale=20, lw=1.8, color=PURPLE))

LBL = dict(fontsize=17, rotation=90, ha='center', va='center', color='#222222')
T(27, 165, 'Log (Zr/Rb)', **LBL)
T(1104, 407, 'Log (Terr/Ca)', **LBL)
T(25, 588, 'Benthic δ$^{18}$O (‰ vs. VPDB)', **LBL)
T(1101, 758, 'Benthic δ$^{18}$O (‰ vs. VPDB)', **LBL)
T(572, 931, 'Age (ka)', fontsize=16, ha='center', va='center', color='#222222')

fig.savefig('out.png', dpi=100, facecolor='white')
